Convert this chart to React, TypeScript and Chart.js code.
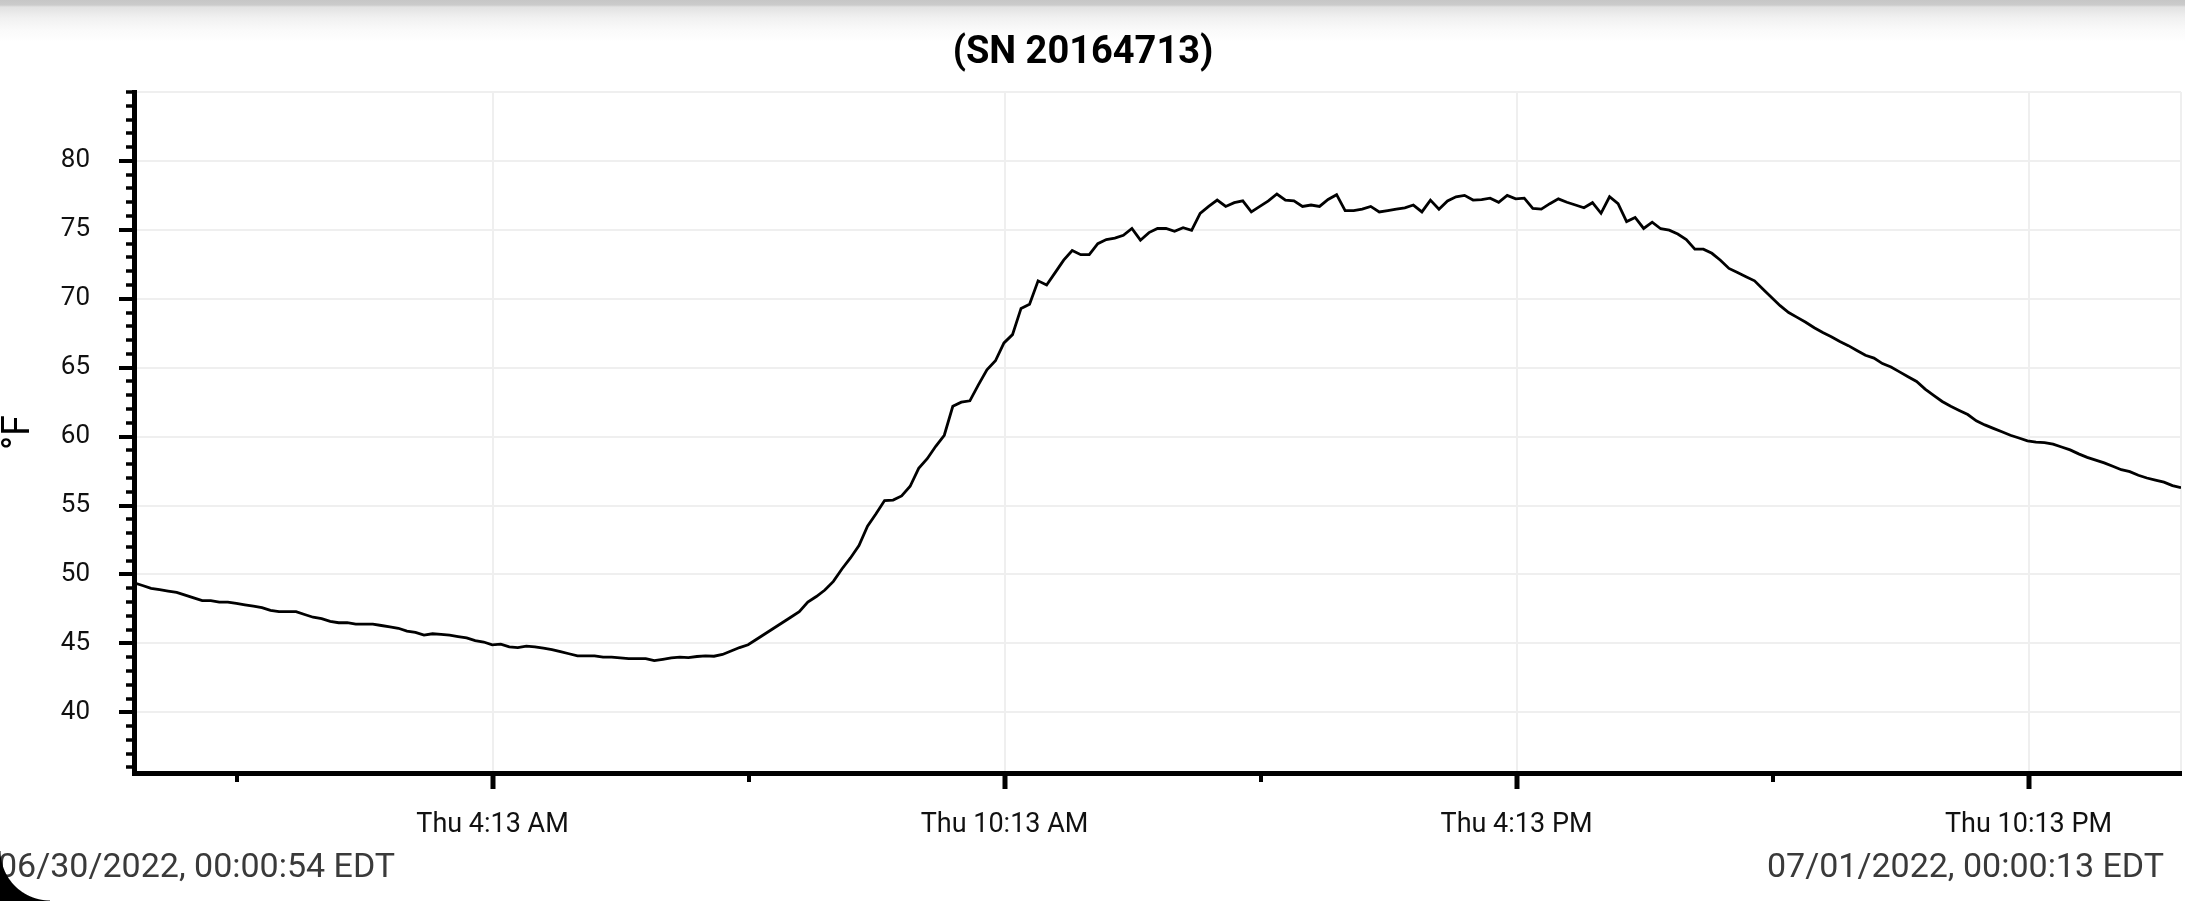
import { useEffect, useRef } from 'react';
import { Chart, registerables } from 'chart.js';

Chart.register(...registerables);

const TITLE = '(SN 20164713)';
const Y_AXIS_TITLE = '°F';
const START_LABEL = '06/30/2022, 00:00:54 EDT';
const END_LABEL = '07/01/2022, 00:00:13 EDT';

// seconds after midnight of 06/30/2022
const START_SEC = 54;
const END_SEC = 86413;

// logged temperature (°F), one reading about every 6 minutes
const TEMPERATURES = [
  49.4, 49.2, 49.0, 48.9, 48.8, 48.7, 48.5, 48.3, 48.1, 48.1,
  48.0, 48.0, 47.9, 47.8, 47.7, 47.6, 47.4, 47.3, 47.3, 47.3,
  47.1, 46.9, 46.8, 46.6, 46.5, 46.5, 46.4, 46.4, 46.4, 46.3,
  46.2, 46.1, 45.9, 45.8, 45.6, 45.7, 45.65, 45.6, 45.5, 45.4,
  45.2, 45.1, 44.9, 44.95, 44.75, 44.7, 44.8, 44.75, 44.65, 44.55,
  44.4, 44.25, 44.1, 44.1, 44.1, 44.0, 44.0, 43.95, 43.9, 43.9,
  43.9, 43.75, 43.85, 43.95, 44.0, 43.97, 44.05, 44.1, 44.07, 44.2,
  44.45, 44.7, 44.9, 45.3, 45.7, 46.1, 46.5, 46.9, 47.3, 48.0,
  48.4, 48.87, 49.5, 50.4, 51.2, 52.1, 53.5, 54.4, 55.36, 55.4,
  55.7, 56.4, 57.7, 58.4, 59.3, 60.1, 62.2, 62.5, 62.6, 63.76,
  64.85, 65.5, 66.8, 67.4, 69.3, 69.6, 71.3, 71.0, 71.9, 72.8,
  73.5, 73.2, 73.2, 74.0, 74.3, 74.4, 74.6, 75.1, 74.25, 74.8,
  75.1, 75.1, 74.9, 75.15, 74.96, 76.2, 76.7, 77.16, 76.7, 76.97,
  77.1, 76.3, 76.7, 77.1, 77.6, 77.16, 77.1, 76.7, 76.8, 76.7,
  77.2, 77.55, 76.4, 76.4, 76.5, 76.7, 76.3, 76.4, 76.5, 76.6,
  76.8, 76.3, 77.16, 76.5, 77.1, 77.4, 77.5, 77.16, 77.2, 77.3,
  77.0, 77.5, 77.25, 77.3, 76.55, 76.5, 76.9, 77.25, 77.0, 76.8,
  76.6, 76.97, 76.2, 77.4, 76.9, 75.6, 75.9, 75.1, 75.56, 75.08,
  74.98, 74.7, 74.3, 73.6, 73.6, 73.3, 72.8, 72.2, 71.9, 71.6,
  71.3, 70.7, 70.1, 69.5, 69.0, 68.65, 68.3, 67.9, 67.55, 67.25,
  66.9, 66.6, 66.25, 65.9, 65.7, 65.3, 65.05, 64.7, 64.35, 64.0,
  63.45, 63.0, 62.55, 62.2, 61.9, 61.6, 61.15, 60.85, 60.6, 60.35,
  60.1, 59.9, 59.7, 59.6, 59.57, 59.45, 59.25, 59.04, 58.75, 58.5,
  58.3, 58.1, 57.85, 57.6, 57.46, 57.2, 57.0, 56.85, 56.7, 56.45,
  56.3,
];

const MAJOR_X_TICKS = [15180, 36780, 58380, 79980];
const MAJOR_X_LABELS = ['Thu 4:13 AM', 'Thu 10:13 AM', 'Thu 4:13 PM', 'Thu 10:13 PM'];
const MINOR_X_TICKS = [4380, 25980, 47580, 69180];

const Y_MIN = 35.6;
const Y_MAX = 85;
const MAJOR_Y_TICKS = [40, 45, 50, 55, 60, 65, 70, 75, 80];
const MINOR_Y_TICKS = [
  36, 37, 38, 39, 41, 42, 43, 44, 46, 47, 48, 49, 51, 52, 53, 54,
  56, 57, 58, 59, 61, 62, 63, 64, 66, 67, 68, 69, 71, 72, 73, 74,
  76, 77, 78, 79, 81, 82, 83, 84, 85,
];

const W = 2185;
const H = 901;
const SHIFT = 15; // canvas starts this far left of the page edge
const CW = W + SHIFT;
const FONT = 'Roboto';
const GRID = '#efefef';

export default function App() {
  const ref = useRef<HTMLCanvasElement>(null);

  useEffect(() => {
    const canvas = ref.current;
    if (!canvas) return;
    const step = (END_SEC - START_SEC) / (TEMPERATURES.length - 1);
    const points = TEMPERATURES.map((v, i) => ({ x: START_SEC + i * step, y: v }));

    const chart = new Chart(canvas, {
      type: 'line',
      data: {
        datasets: [
          {
            data: points,
            borderColor: '#000',
            borderWidth: 2.8,
            pointRadius: 0,
            tension: 0,
            fill: false,
            xAxisID: 'x',
            yAxisID: 'y',
          },
        ],
      },
      options: {
        animation: false,
        responsive: false,
        maintainAspectRatio: false,
        devicePixelRatio: 1,
        events: [],
        layout: { padding: { left: 0, right: 4, top: 0, bottom: 0 } },
        plugins: {
          legend: { display: false },
          tooltip: { enabled: false },
          title: {
            display: true,
            text: TITLE,
            color: '#000',
            font: { family: FONT, size: 38, weight: 'bold', lineHeight: 1 },
            padding: { top: 34, bottom: 20 },
          },
        },
        scales: {
          x: {
            type: 'linear',
            position: 'bottom',
            weight: 1,
            min: START_SEC,
            max: END_SEC,
            afterBuildTicks: (s: any) => {
              s.ticks = MAJOR_X_TICKS.map((v) => ({ value: v }));
            },
            afterFit: (s: any) => {
              s.height = H - 773;
            },
            ticks: {
              autoSkip: false,
              maxRotation: 0,
              padding: 20,
              color: '#111',
              font: { family: FONT, size: 27 },
              callback: (_v: any, i: number) => MAJOR_X_LABELS[i],
            },
            grid: {
              color: GRID,
              lineWidth: 2,
              tickColor: '#000',
              tickWidth: 5,
              tickLength: 16,
            },
            border: { display: true, color: '#000', width: 5 },
          },
          xMinor: {
            type: 'linear',
            position: 'bottom',
            weight: 0,
            min: START_SEC,
            max: END_SEC,
            afterBuildTicks: (s: any) => {
              s.ticks = [...MINOR_X_TICKS, END_SEC].map((v) => ({ value: v }));
            },
            afterFit: (s: any) => {
              s.height = 0;
            },
            ticks: { display: false },
            grid: {
              color: (c: any) => (c.tick && c.tick.value === END_SEC ? GRID : 'rgba(0,0,0,0)'),
              lineWidth: 2,
              tickColor: (c: any) => (c.tick && c.tick.value === END_SEC ? 'rgba(0,0,0,0)' : '#000'),
              tickWidth: 4,
              tickLength: 9,
            },
            border: { display: false },
          },
          y: {
            type: 'linear',
            position: 'left',
            weight: 1,
            min: Y_MIN,
            max: Y_MAX,
            afterBuildTicks: (s: any) => {
              s.ticks = MAJOR_Y_TICKS.map((v) => ({ value: v }));
            },
            afterFit: (s: any) => {
              s.width = 134 + SHIFT;
            },
            ticks: {
              padding: 29,
              color: '#111',
              font: { family: FONT, size: 26 },
              callback: (v: any) => String(v),
            },
            grid: {
              color: GRID,
              lineWidth: 2,
              tickColor: '#000',
              tickWidth: 4,
              tickLength: 15,
            },
            border: { display: true, color: '#000', width: 5 },
            title: {
              display: true,
              text: Y_AXIS_TITLE,
              color: '#000',
              font: { family: FONT, size: 38, lineHeight: 1 },
              padding: { top: SHIFT, bottom: 0 },
            },
          },
          yMinor: {
            type: 'linear',
            position: 'left',
            weight: 0,
            min: Y_MIN,
            max: Y_MAX,
            afterBuildTicks: (s: any) => {
              s.ticks = MINOR_Y_TICKS.map((v) => ({ value: v }));
            },
            afterFit: (s: any) => {
              s.width = 0;
            },
            ticks: { display: false },
            grid: {
              color: (c: any) => (c.tick && c.tick.value === Y_MAX ? GRID : 'rgba(0,0,0,0)'),
              lineWidth: 2,
              tickColor: '#000',
              tickWidth: 3.5,
              tickLength: 8,
            },
            border: { display: false },
          },
        },
      } as any,
    });
    return () => chart.destroy();
  }, []);

  const dateStyle: any = {
    position: 'absolute',
    top: 848,
    fontFamily: FONT,
    fontSize: 34,
    lineHeight: '34px',
    color: '#3a3a3a',
    whiteSpace: 'nowrap',
  };

  return (
    <div
      style={{
        position: 'fixed',
        left: 0,
        top: 0,
        width: W,
        height: H,
        background: '#fff',
        overflow: 'hidden',
      }}
    >
      <div
        style={{
          position: 'absolute',
          left: 0,
          top: 0,
          width: W,
          height: 42,
          background:
            'linear-gradient(to bottom, #c6c6c6 0px, #cbcbcb 5px, #e2e2e2 7px, #f1f1f1 18px, #fafafa 30px, rgba(255,255,255,0) 42px)',
        }}
      />
      <canvas
        ref={ref}
        width={CW}
        height={H}
        style={{ position: 'absolute', left: -SHIFT, top: 0, width: CW, height: H }}
      />
      <div style={{ ...dateStyle, left: -2 }}>{START_LABEL}</div>
      <div style={{ ...dateStyle, right: 21 }}>{END_LABEL}</div>
      <div
        style={{
          position: 'absolute',
          left: 0,
          bottom: 0,
          width: 50,
          height: 50,
          background: 'radial-gradient(circle at 100% 0%, rgba(0,0,0,0) 49px, #000 50px)',
        }}
      />
    </div>
  );
}
